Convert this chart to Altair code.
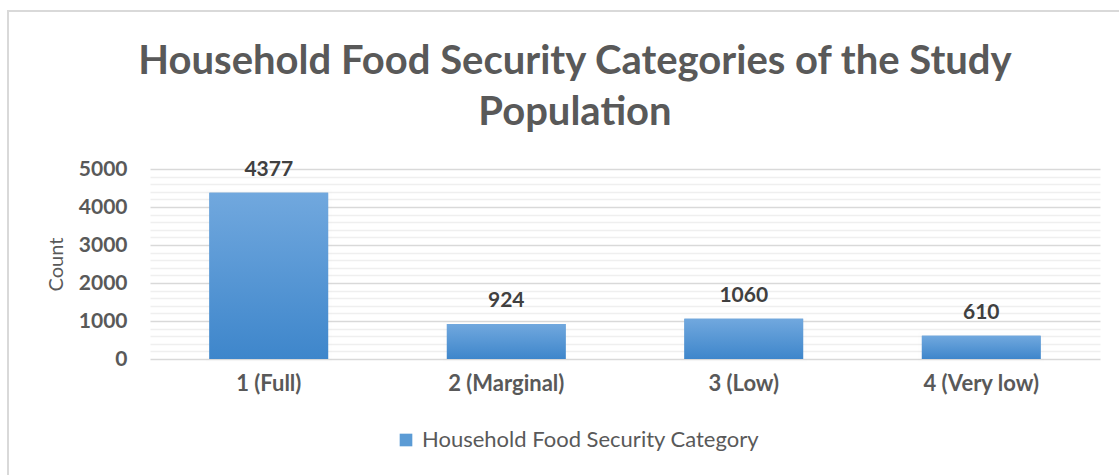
import altair as alt
import pandas as pd

categories = ["1 (Full)", "2 (Marginal)", "3 (Low)", "4 (Very low)"]
counts = [4377, 924, 1060, 610]
series_name = "Household Food Security Category"
y_ticks = list(range(0, 5001, 200))

df = pd.DataFrame({"category": categories, "count": counts})

FONT = "Lato"
GREY = "#595959"

x_enc = alt.X("category:N", sort=categories, title=None,
              scale=alt.Scale(paddingInner=0.5, paddingOuter=0.25),
              axis=alt.Axis(labelFont=FONT, labelFontSize=22, labelFontWeight="bold",
                            labelColor=GREY, labelAngle=0, labelPadding=14,
                            domain=False, ticks=False, grid=False))
y_enc = alt.Y("count:Q", title="Count",
              scale=alt.Scale(domain=[0, 5000], nice=False),
              axis=alt.Axis(values=y_ticks, ticks=False, domain=False, format="d",
                            labelExpr="datum.value % 1000 === 0 ? datum.label : ''",
                            labelFont=FONT, labelFontSize=21, labelFontWeight="bold",
                            labelColor=GREY, labelPadding=23,
                            gridColor={"condition": {"test": "datum.value % 1000 === 0", "value": "#d9d9d9"},
                                       "value": "#efefef"},
                            gridWidth=1.5,
                            titleFont=FONT, titleFontSize=20, titleFontWeight="normal",
                            titleColor=GREY, titlePadding=12))

base = alt.Chart(df)

frame = base.mark_rect(fillOpacity=0, stroke="#d9d9d9", strokeWidth=2).encode(
    x=alt.value(-142), x2=alt.value(1200), y=alt.value(-158), y2=alt.value(600)
).transform_filter("datum.category === '1 (Full)'")

shadow = base.mark_bar(color="#000000", opacity=0.06, stroke="#000000", strokeOpacity=0.05,
                       strokeWidth=6).encode(x=x_enc, y=y_enc)

legend_bars = base.mark_bar().transform_calculate(series=f"'{series_name}'").encode(
    x=x_enc, y=y_enc,
    color=alt.Color("series:N", scale=alt.Scale(range=["#5b9bd5"]),
                    legend=alt.Legend(title=None, orient="none", legendX=245, legendY=260,
                                      symbolType="square", symbolSize=160, symbolStrokeWidth=0,
                                      labelFont=FONT, labelFontSize=22, labelColor=GREY,
                                      labelLimit=0, padding=0, labelOffset=5))
)

grad_bars = base.mark_bar(color=alt.LinearGradient(
    gradient="linear",
    stops=[alt.GradientStop(color="#71a8de", offset=0),
           alt.GradientStop(color="#3e86cb", offset=1)],
    x1=0, x2=0, y1=0, y2=1)).encode(x=x_enc, y=y_enc)

labels = base.mark_text(dy=-23, font=FONT, fontSize=21, fontWeight="bold", color="#404040").encode(
    x=x_enc, y=y_enc, text="count:Q")

chart = alt.layer(frame, shadow, legend_bars, grad_bars, labels).properties(
    width=950, height=190,
    padding={"left": 150, "top": 169, "right": 19, "bottom": 116},
    autosize=alt.AutoSizeParams(type="none"),
    title=alt.TitleParams(
        text=["Household Food Security Categories of the Study", "Population"],
        font=FONT, fontSize=40, fontWeight="bold", color=GREY,
        anchor="middle", frame="group", dx=-50, offset=-123, lineHeight=51),
).configure_view(stroke=None)

chart.save("out.html", embed_options={"renderer": "svg", "actions": False})
